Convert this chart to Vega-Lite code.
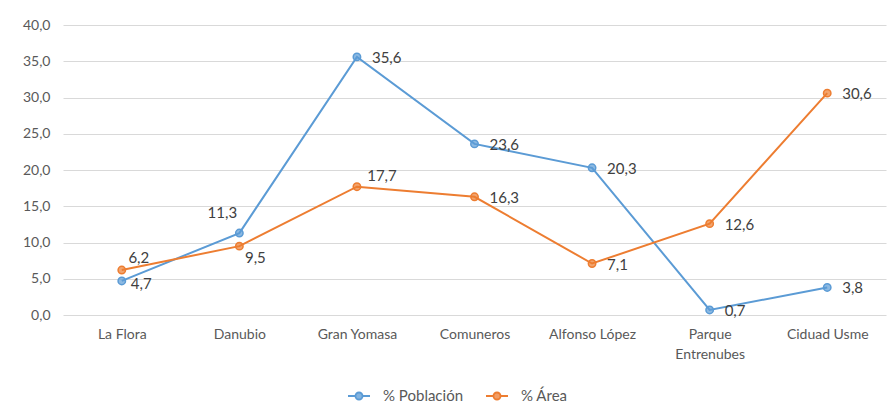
{
  "$schema": "https://vega.github.io/schema/vega-lite/v6.json",
  "width": 823,
  "height": 290,
  "autosize": {"type": "none"},
  "padding": {"left": 63, "top": 25, "right": 10, "bottom": 101},
  "background": "white",
  "data": {
    "values": [
      {"d": "La Flora", "s": "% Población", "v": 4.7},
      {"d": "Danubio", "s": "% Población", "v": 11.3},
      {"d": "Gran Yomasa", "s": "% Población", "v": 35.6},
      {"d": "Comuneros", "s": "% Población", "v": 23.6},
      {"d": "Alfonso López", "s": "% Población", "v": 20.3},
      {"d": "Parque Entrenubes", "s": "% Población", "v": 0.7},
      {"d": "Ciduad Usme", "s": "% Población", "v": 3.8},
      {"d": "La Flora", "s": "% Área", "v": 6.2},
      {"d": "Danubio", "s": "% Área", "v": 9.5},
      {"d": "Gran Yomasa", "s": "% Área", "v": 17.7},
      {"d": "Comuneros", "s": "% Área", "v": 16.3},
      {"d": "Alfonso López", "s": "% Área", "v": 7.1},
      {"d": "Parque Entrenubes", "s": "% Área", "v": 12.6},
      {"d": "Ciduad Usme", "s": "% Área", "v": 30.6}
    ]
  },
  "encoding": {
    "x": {
      "field": "d",
      "type": "nominal",
      "sort": ["La Flora", "Danubio", "Gran Yomasa", "Comuneros", "Alfonso López", "Parque Entrenubes", "Ciduad Usme"],
      "scale": {"type": "point", "padding": 0.5},
      "axis": {
        "title": null,
        "labelAngle": 0,
        "grid": false,
        "domain": false,
        "ticks": false,
        "labelPadding": 12,
        "labelLineHeight": 20,
        "labelExpr": "datum.label == 'Parque Entrenubes' ? ['Parque', 'Entrenubes'] : datum.label"
      }
    },
    "y": {
      "field": "v",
      "type": "quantitative",
      "scale": {"domain": [0, 40], "nice": false},
      "axis": {
        "title": null,
        "values": [0, 5, 10, 15, 20, 25, 30, 35, 40],
        "format": ".1f",
        "grid": true,
        "domain": false,
        "ticks": false,
        "labelPadding": 13
      }
    }
  },
  "layer": [
    {
      "mark": {"type": "line", "strokeWidth": 2},
      "encoding": {
        "color": {
          "field": "s",
          "type": "nominal",
          "sort": ["% Población", "% Área"],
          "scale": {"domain": ["% Población", "% Área"], "range": ["#5B9BD5", "#ED7D31"]},
          "legend": {
            "title": null,
            "orient": "none",
            "direction": "horizontal",
            "legendX": 284,
            "legendY": 359,
            "symbolType": "M-1,0H-0.32M0.32,0H1M-0.32,0A0.32,0.32 0 1,1 0.32,0A0.32,0.32 0 1,1 -0.32,0Z",
            "symbolSize": 484,
            "symbolStrokeWidth": 1.8,
            "labelFontSize": 15,
            "labelColor": "#595959",
            "labelOffset": 12,
            "columnPadding": 18,
            "encode": {
              "symbols": {
                "update": {
                  "fill": {"scale": "color", "field": "value"},
                  "fillOpacity": {"value": 0.75}
                }
              }
            }
          }
        }
      }
    },
    {
      "mark": {"type": "point", "filled": true, "shape": "circle", "size": 55, "strokeWidth": 1.5, "fillOpacity": 0.7, "strokeOpacity": 1},
      "encoding": {
        "fill": {
          "field": "s",
          "type": "nominal",
          "scale": {"domain": ["% Población", "% Área"], "range": ["#5B9BD5", "#ED7D31"]},
          "legend": null
        },
        "stroke": {
          "field": "s",
          "type": "nominal",
          "scale": {"domain": ["% Población", "% Área"], "range": ["#5B9BD5", "#ED7D31"]},
          "legend": null
        }
      }
    },
    {
      "transform": [
        {"filter": "!((datum.s == '% Población' && (datum.d == 'Danubio' || datum.d == 'La Flora')) || (datum.s == '% Área' && (datum.d == 'La Flora' || datum.d == 'Danubio' || datum.d == 'Gran Yomasa')))"}
      ],
      "mark": {"type": "text", "align": "left", "baseline": "middle", "dx": 15, "dy": 1, "fontSize": 15, "color": "#404040"},
      "encoding": {"text": {"field": "v", "type": "quantitative", "format": ".1f"}}
    },
    {
      "transform": [{"filter": "datum.s == '% Población' && datum.d == 'La Flora'"}],
      "mark": {"type": "text", "align": "left", "baseline": "middle", "dx": 9, "dy": 3, "fontSize": 15, "color": "#404040"},
      "encoding": {"text": {"field": "v", "type": "quantitative", "format": ".1f"}}
    },
    {
      "transform": [{"filter": "datum.s == '% Población' && datum.d == 'Danubio'"}],
      "mark": {"type": "text", "align": "center", "baseline": "middle", "dx": -17, "dy": -20, "fontSize": 15, "color": "#404040"},
      "encoding": {"text": {"field": "v", "type": "quantitative", "format": ".1f"}}
    },
    {
      "transform": [{"filter": "datum.s == '% Área' && datum.d == 'La Flora'"}],
      "mark": {"type": "text", "align": "center", "baseline": "middle", "dx": 17, "dy": -12, "fontSize": 15, "color": "#404040"},
      "encoding": {"text": {"field": "v", "type": "quantitative", "format": ".1f"}}
    },
    {
      "transform": [{"filter": "datum.s == '% Área' && datum.d == 'Danubio'"}],
      "mark": {"type": "text", "align": "center", "baseline": "middle", "dx": 16, "dy": 12, "fontSize": 15, "color": "#404040"},
      "encoding": {"text": {"field": "v", "type": "quantitative", "format": ".1f"}}
    },
    {
      "transform": [{"filter": "datum.s == '% Área' && datum.d == 'Gran Yomasa'"}],
      "mark": {"type": "text", "align": "center", "baseline": "middle", "dx": 25, "dy": -11, "fontSize": 15, "color": "#404040"},
      "encoding": {"text": {"field": "v", "type": "quantitative", "format": ".1f"}}
    }
  ],
  "config": {
    "locale": {
      "number": {"decimal": ",", "thousands": ".", "grouping": [3], "currency": ["", " €"]}
    },
    "font": "Lato",
    "view": {"stroke": null},
    "axis": {
      "labelFont": "Lato",
      "labelFontSize": 14,
      "labelColor": "#595959",
      "gridColor": "#D9D9D9",
      "gridWidth": 1
    },
    "legend": {"labelFont": "Lato"},
    "text": {"font": "Lato"}
  }
}
